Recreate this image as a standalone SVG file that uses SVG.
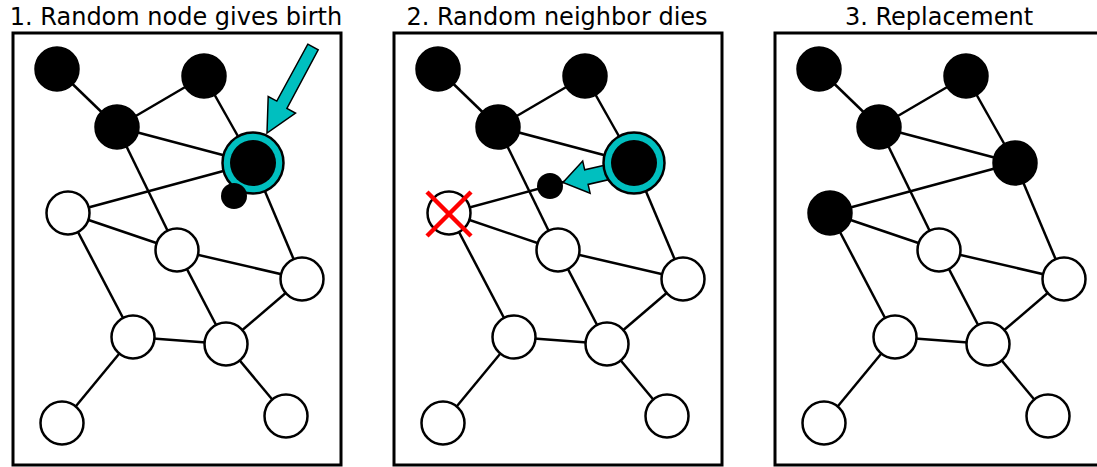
<svg xmlns="http://www.w3.org/2000/svg" width="1097" height="467" viewBox="0 0 1097 467">
<style>
.title{font-family:"DejaVu Sans",sans-serif;font-size:24px;fill:#000;text-anchor:middle}
.frame{fill:none;stroke:#000;stroke-width:3}
.edge{stroke:#000;stroke-width:2.5;fill:none}
.w{fill:#fff;stroke:#000;stroke-width:2.5}
.b{fill:#000;stroke:#000;stroke-width:2.5}
.ring{fill:#00bfbf;stroke:#000;stroke-width:2.5}
.arrow{fill:#00bfbf;stroke:#000;stroke-width:1.5;stroke-linejoin:miter}
.x{stroke:#ff0000;stroke-width:4.5}
</style>
<defs>
<g id="edges">
<line x1="57" y1="69" x2="117" y2="127"/>
<line x1="117" y1="127" x2="204" y2="76"/>
<line x1="117" y1="127" x2="253" y2="163"/>
<line x1="204" y1="76" x2="253" y2="163"/>
<line x1="253" y1="163" x2="68" y2="213"/>
<line x1="117" y1="127" x2="177" y2="250"/>
<line x1="68" y1="213" x2="177" y2="250"/>
<line x1="68" y1="213" x2="133" y2="337"/>
<line x1="177" y1="250" x2="226" y2="344"/>
<line x1="177" y1="250" x2="302" y2="279"/>
<line x1="253" y1="163" x2="302" y2="279"/>
<line x1="302" y1="279" x2="226" y2="344"/>
<line x1="133" y1="337" x2="226" y2="344"/>
<line x1="133" y1="337" x2="62" y2="423"/>
<line x1="226" y1="344" x2="286" y2="416"/>
</g>
</defs>

<g id="panel1">
<text class="title" x="176" y="25">1. Random node gives birth</text>
<rect class="frame" x="13" y="33" width="328" height="432"/>
<g id="connectors1" class="edge"><use href="#edges"/></g>
<g id="p1-A"><circle class="b" cx="57" cy="69" r="21.5"/></g>
<g id="p1-B"><circle class="b" cx="204" cy="76" r="21.5"/></g>
<g id="p1-C"><circle class="b" cx="117" cy="127" r="21.5"/></g>
<g id="p1-D"><circle class="ring" cx="253" cy="163" r="30.5"/><circle fill="#000" cx="253" cy="163" r="23"/></g>
<g id="p1-offspring"><circle fill="#000" cx="234" cy="196" r="13"/></g>
<g id="p1-E"><circle class="w" cx="68" cy="213" r="21.5"/></g>
<g id="p1-F"><circle class="w" cx="177" cy="250" r="21.5"/></g>
<g id="p1-G"><circle class="w" cx="302" cy="279" r="21.5"/></g>
<g id="p1-H"><circle class="w" cx="133" cy="337" r="21.5"/></g>
<g id="p1-I"><circle class="w" cx="226" cy="344" r="21.5"/></g>
<g id="p1-J"><circle class="w" cx="62" cy="423" r="21.5"/></g>
<g id="p1-K"><circle class="w" cx="286" cy="416" r="21.5"/></g>
<g id="p1-arrow"><polygon class="arrow" points="307.8,44.2 318.2,49.8 286.9,108.4 295.5,113.0 267,133 268.2,96.5 276.8,101.1"/></g>
</g>

<g id="panel2" transform="translate(381,0)">
<text class="title" x="176" y="25">2. Random neighbor dies</text>
<rect class="frame" x="13" y="33" width="328" height="432"/>
<g id="connectors2" class="edge"><use href="#edges"/></g>
<g id="p2-A"><circle class="b" cx="57" cy="69" r="21.5"/></g>
<g id="p2-B"><circle class="b" cx="204" cy="76" r="21.5"/></g>
<g id="p2-C"><circle class="b" cx="117" cy="127" r="21.5"/></g>
<g id="p2-arrow"><polygon class="arrow" points="229.0,164.0 203.7,169.8 201.7,161.0 182,182.5 209.1,193.2 207.1,184.4 232.4,178.6"/></g>
<g id="p2-D"><circle class="ring" cx="253" cy="163" r="30.5"/><circle fill="#000" cx="253" cy="163" r="23"/></g>
<g id="p2-offspring"><circle fill="#000" cx="169" cy="186" r="13"/></g>
<g id="p2-E"><circle class="w" cx="68" cy="213" r="21.5"/>
<line class="x" x1="46" y1="192" x2="90" y2="236"/><line class="x" x1="46" y1="236" x2="90" y2="192"/></g>
<g id="p2-F"><circle class="w" cx="177" cy="250" r="21.5"/></g>
<g id="p2-G"><circle class="w" cx="302" cy="279" r="21.5"/></g>
<g id="p2-H"><circle class="w" cx="133" cy="337" r="21.5"/></g>
<g id="p2-I"><circle class="w" cx="226" cy="344" r="21.5"/></g>
<g id="p2-J"><circle class="w" cx="62" cy="423" r="21.5"/></g>
<g id="p2-K"><circle class="w" cx="286" cy="416" r="21.5"/></g>
</g>

<g id="panel3" transform="translate(762,0)">
<text class="title" x="177" y="25">3. Replacement</text>
<rect class="frame" x="13" y="33" width="328" height="432"/>
<g id="connectors3" class="edge"><use href="#edges"/></g>
<g id="p3-A"><circle class="b" cx="57" cy="69" r="21.5"/></g>
<g id="p3-B"><circle class="b" cx="204" cy="76" r="21.5"/></g>
<g id="p3-C"><circle class="b" cx="117" cy="127" r="21.5"/></g>
<g id="p3-D"><circle class="b" cx="253" cy="163" r="21.5"/></g>
<g id="p3-E"><circle class="b" cx="68" cy="213" r="21.5"/></g>
<g id="p3-F"><circle class="w" cx="177" cy="250" r="21.5"/></g>
<g id="p3-G"><circle class="w" cx="302" cy="279" r="21.5"/></g>
<g id="p3-H"><circle class="w" cx="133" cy="337" r="21.5"/></g>
<g id="p3-I"><circle class="w" cx="226" cy="344" r="21.5"/></g>
<g id="p3-J"><circle class="w" cx="62" cy="423" r="21.5"/></g>
<g id="p3-K"><circle class="w" cx="286" cy="416" r="21.5"/></g>
</g>
</svg>
